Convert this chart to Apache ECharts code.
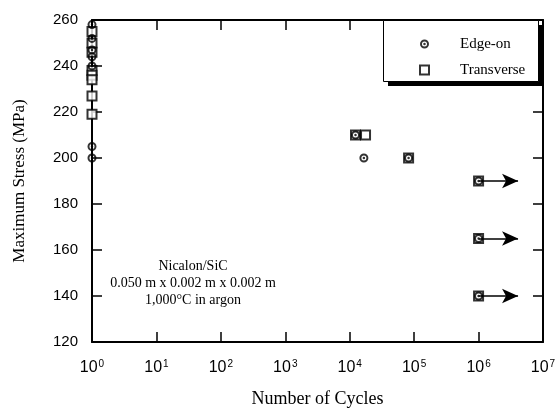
<!DOCTYPE html>
<html><head><meta charset="utf-8">
<script src="https://cdn.jsdelivr.net/npm/echarts@6/dist/echarts.min.js"></script>
<style>html,body{margin:0;padding:0;background:#fff}#c{width:559px;height:409px}</style>
</head><body><div id="c"></div>
<script>
// ---- data ----
const edgeOnCycles = [1, 1, 1, 1, 1, 1, 1, 1.23e4, 1.66e4, 8.2e4, 1e6, 1e6, 1e6];
const edgeOnStress = [258, 252, 247, 244, 240, 205, 200, 210, 200, 200, 190, 165, 140];
const transCycles  = [1, 1, 1, 1, 1, 1, 1, 1, 1.23e4, 1.76e4, 8.2e4, 1e6, 1e6, 1e6];
const transStress  = [255, 250, 246, 238, 236, 234, 227, 219, 210, 210, 200, 190, 165, 140];
const runoutStart  = 1e6;
const runoutEnd    = 4.1e6;
const runoutStress = [190, 165, 140];
const xTickExponents = [0, 1, 2, 3, 4, 5, 6, 7];
const yTicks = [120, 140, 160, 180, 200, 220, 240, 260];
const noteLines = ['Nicalon/SiC', '0.050 m x 0.002 m x 0.002 m', '1,000\u00B0C in argon'];

const serif = 'Liberation Serif';
const sans = 'Liberation Sans';
const ringDot = 'path://M0,-10A10,10 0 1,1 0,10A10,10 0 1,1 0,-10ZM0,-5.6A5.6,5.6 0 1,0 0,5.6A5.6,5.6 0 1,0 0,-5.6ZM0,-2.8A2.8,2.8 0 1,1 0,2.8A2.8,2.8 0 1,1 0,-2.8Z';

const zip = (xs, ys) => xs.map((x, i) => [x, ys[i]]);

const chart = echarts.init(document.getElementById('c'), null, {renderer: 'canvas'});

const xCommon = {
  type: 'log', logBase: 10,
  min: Math.pow(10, xTickExponents[0]),
  max: Math.pow(10, xTickExponents[xTickExponents.length - 1]),
  splitNumber: xTickExponents.length - 1,
  axisLine: {lineStyle: {color: '#000', width: 2}},
  axisTick: {inside: true, length: 10, lineStyle: {color: '#000', width: 1.5}},
  minorTick: {show: false},
  splitLine: {show: false}
};
const yCommon = {
  type: 'value', min: yTicks[0], max: yTicks[yTicks.length - 1], interval: yTicks[1] - yTicks[0],
  axisLine: {lineStyle: {color: '#000', width: 2}},
  axisTick: {inside: true, length: 10, lineStyle: {color: '#000', width: 1.5}},
  splitLine: {show: false}
};

// legend frame (box with hard drop shadow)
const box = {x: 383, y: 20, w: 155, h: 61, shadow: 5};

const option = {
  backgroundColor: '#fff',
  animation: false,
  grid: {left: 92, right: 16, top: 20, bottom: 67, containLabel: false, outerBoundsMode: 'none'},
  xAxis: [
    Object.assign({}, xCommon, {
      position: 'bottom',
      name: 'Number of Cycles', nameLocation: 'middle', nameGap: 48,
      nameTextStyle: {fontFamily: serif, fontSize: 18, color: '#000'},
      axisLabel: {
        margin: 17, color: '#000',
        formatter: v => '{b|10}{s|' + Math.round(Math.log10(v)) + '}',
        rich: {
          b: {fontFamily: sans, fontSize: 16, color: '#000'},
          s: {fontFamily: sans, fontSize: 10, color: '#000', verticalAlign: 'top', padding: [0, 0, 8, 1]}
        }
      }
    }),
    Object.assign({}, xCommon, {position: 'top', axisLabel: {show: false}})
  ],
  yAxis: [
    Object.assign({}, yCommon, {
      position: 'left',
      name: 'Maximum Stress (MPa)', nameLocation: 'middle', nameGap: 64,
      nameTextStyle: {fontFamily: serif, fontSize: 17, color: '#000'},
      axisLabel: {margin: 14, color: '#000', fontFamily: sans, fontSize: 15}
    }),
    Object.assign({}, yCommon, {position: 'right', axisLabel: {show: false}})
  ],
  legend: {
    orient: 'vertical', left: box.x, top: box.y,
    data: ['Edge-on', 'Transverse'],
    itemWidth: 9, itemHeight: 9, itemGap: 10,
    padding: [16, 10, 4, 36],
    textStyle: {fontFamily: serif, fontSize: 15, color: '#000', lineHeight: 16, padding: [0, 0, 0, 26]},
    backgroundColor: 'transparent', borderWidth: 0,
    selectedMode: false, z: 10
  },
  series: [
    {
      name: 'Transverse', type: 'scatter', xAxisIndex: 0, yAxisIndex: 0,
      data: zip(transCycles, transStress),
      symbol: 'rect', symbolSize: 9,
      itemStyle: {color: '#fff', borderColor: '#000', borderWidth: 2},
      markLine: {
        silent: true, animation: false,
        symbol: ['none', 'arrow'], symbolSize: [11, 16],
        lineStyle: {color: '#000', width: 1.5, type: 'solid'},
        label: {show: false},
        data: runoutStress.map(v => [{coord: [runoutStart, v]}, {coord: [runoutEnd, v]}])
      }
    },
    {
      name: 'Edge-on', type: 'scatter', xAxisIndex: 0, yAxisIndex: 0,
      data: zip(edgeOnCycles, edgeOnStress),
      symbol: ringDot, symbolSize: 9,
      itemStyle: {color: '#000'}
    }
  ],
  graphic: [
    {type: 'rect', z: 5, silent: true,
     shape: {x: box.x + box.shadow, y: box.y + box.shadow, width: box.w, height: box.h},
     style: {fill: '#000'}},
    {type: 'rect', z: 6, silent: true,
     shape: {x: box.x + 0.5, y: box.y + 0.5, width: box.w, height: box.h},
     style: {fill: '#fff', stroke: '#000', lineWidth: 1}}
  ].concat(noteLines.map((t, i) => ({
    type: 'text', x: 193, y: 266 + i * 17,
    style: {text: t, font: '14px "Liberation Serif"', fill: '#000',
            align: 'center', verticalAlign: 'middle', textAlign: 'center', textVerticalAlign: 'middle'}
  })))
};
chart.setOption(option);
</script></body></html>
